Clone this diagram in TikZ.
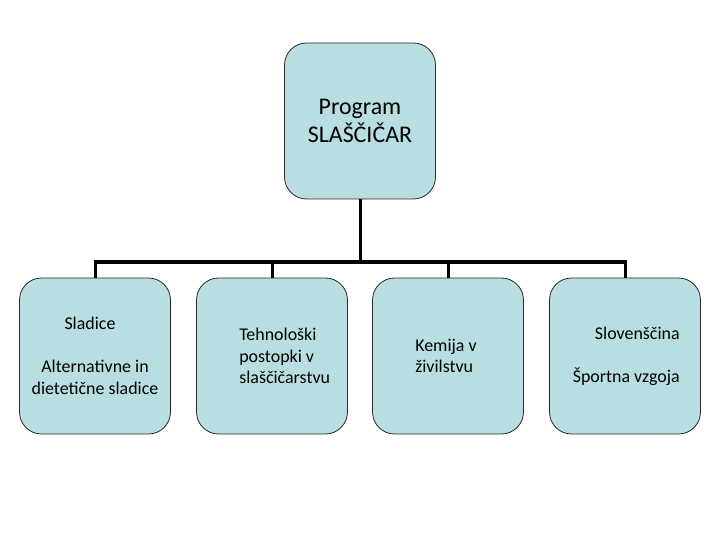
\documentclass[tikz,border=0pt]{standalone}
\usepackage{fontspec}
\setmainfont{Carlito}
\usetikzlibrary{positioning}
\definecolor{boxFill}{RGB}{184,222,226}
\definecolor{boxLine}{RGB}{40,40,40}

\begin{document}
\begin{tikzpicture}[x=1bp, y=-1bp,
    unit/.style={draw=boxLine, line width=0.8bp, fill=boxFill, rounded corners=22bp,
      minimum width=151bp, minimum height=156bp, inner sep=0pt},
    big/.style={font=\fontsize{24}{28.5}\selectfont, align=center},
    small/.style={font=\fontsize{18}{21.6}\selectfont, inner sep=0pt},
    link/.style={line width=3bp}]
    \useasboundingbox (0,0) rectangle (720,540);
    % boxes
    \node[unit, big] (prog) at (360,121) {Program\\SLAŠČIČAR};
    \node[unit] (sweet) at (95,356) {};
    \node[unit] (tech) at (272,356) {};
    \node[unit] (chem) at (448,356) {};
    \node[unit] (lang) at (625,356) {};
    % texts
    \node[small, align=center] (sweetTxt) at (sweet) {Sladice\hspace*{10bp}\\[21.6bp]Alternativne in\\dietetične sladice};
    \node[small, align=left, anchor=west] (techTxt) at ([xshift=43bp]tech.west) {Tehnološki\\postopki v\\slaščičarstvu};
    \node[small, align=left, anchor=west] (chemTxt) at ([xshift=43bp]chem.west) {Kemija v\\živilstvu};
    \node[small, align=right, anchor=east] (langTxt) at ([xshift=-21bp]lang.east) {Slovenščina\\[21.6bp]Športna vzgoja};
    % connectors
    \coordinate (bus) at (360,262);
    \draw[link] (prog.south) -- (bus);
    \draw[link] (sweet.north) |- (bus) -| (lang.north);
    \draw[link] (tech.north) -- (tech.north |- bus);
    \draw[link] (chem.north) -- (chem.north |- bus);
  \end{tikzpicture}
\end{document}
